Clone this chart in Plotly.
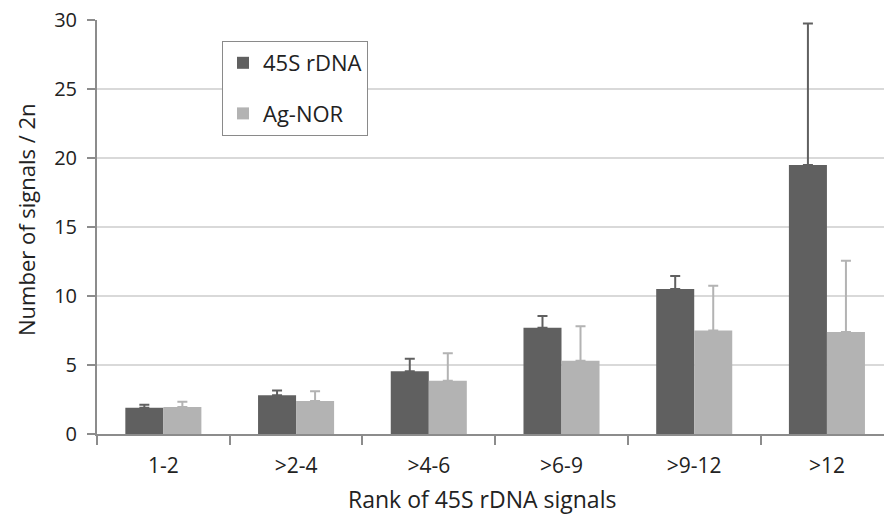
import plotly.graph_objects as go

categories = ["1-2", ">2-4", ">4-6", ">6-9", ">9-12", ">12"]
rdna_mean = [1.9, 2.8, 4.55, 7.7, 10.5, 19.5]
rdna_err = [0.22, 0.35, 0.9, 0.85, 0.95, 10.25]
agnor_mean = [1.95, 2.4, 3.85, 5.3, 7.5, 7.4]
agnor_err = [0.38, 0.7, 2.0, 2.5, 3.25, 5.15]

DARK = "#606060"
LIGHT = "#b3b3b3"
FONT = "Open Sans"
TXT = "#222222"

fig = go.Figure()
fig.add_trace(go.Bar(
    x=categories, y=rdna_mean, name="45S rDNA", legendgroup="a",
    marker=dict(color=DARK, line=dict(width=0)),
    error_y=dict(type="data", symmetric=False, array=rdna_err,
                 arrayminus=[0] * len(rdna_err), color=DARK, thickness=2, width=5),
))
fig.add_trace(go.Bar(
    x=categories, y=agnor_mean, name="Ag-NOR", legendgroup="b",
    marker=dict(color=LIGHT, line=dict(width=0)),
    error_y=dict(type="data", symmetric=False, array=agnor_err,
                 arrayminus=[0] * len(agnor_err), color=LIGHT, thickness=2, width=5),
))

fig.update_layout(
    width=884, height=515,
    margin=dict(l=97, r=0, t=20, b=81),
    paper_bgcolor="white", plot_bgcolor="white",
    barmode="group", bargap=0.427, bargroupgap=0,
    font=dict(family=FONT, size=18, color=TXT),
    showlegend=True,
    legend=dict(x=(222 - 97) / 787, y=(434 - 41) / 414, xanchor="left", yanchor="top",
                bordercolor="#8a8a8a", borderwidth=1, bgcolor="white",
                font=dict(size=22, family=FONT, color=TXT),
                tracegroupgap=19, traceorder="grouped",
                itemwidth=30),
    xaxis=dict(
        type="category", range=[-0.5, 5.43], tickson="boundaries",
        ticks="outside", ticklen=9, tickwidth=2, tickcolor="#8c8c8c",
        showline=True, linecolor="#8c8c8c", linewidth=2,
        showgrid=False, ticklabelstandoff=12,
        tickfont=dict(size=21, family=FONT, color=TXT),
    ),
    yaxis=dict(
        range=[0, 30], tickvals=[0, 5, 10, 15, 20, 25, 30],
        ticks="outside", ticklen=8, tickwidth=2, tickcolor="#8c8c8c",
        showline=True, linecolor="#8c8c8c", linewidth=2,
        showgrid=True, gridcolor="#d9d9d9", gridwidth=1.5,
        zeroline=False, ticklabelstandoff=6,
        tickfont=dict(size=20, family=FONT, color=TXT),
    ),
    annotations=[
        dict(text="Rank of 45S rDNA signals", xref="paper", yref="paper",
             x=(482 - 97) / 787, y=-(499 - 434) / 414, xanchor="center", yanchor="middle",
             showarrow=False, font=dict(size=23, family=FONT, color=TXT)),
        dict(text="Number of signals / 2n", xref="paper", yref="paper",
             x=-(97 - 26) / 787, y=(434 - 220) / 414, xanchor="center", yanchor="middle",
             textangle=-90, showarrow=False,
             font=dict(size=22, family=FONT, color=TXT)),
    ],
)

fig.write_html("out.html", post_script="document.body.style.margin='0';",
               config={"displayModeBar": False})
